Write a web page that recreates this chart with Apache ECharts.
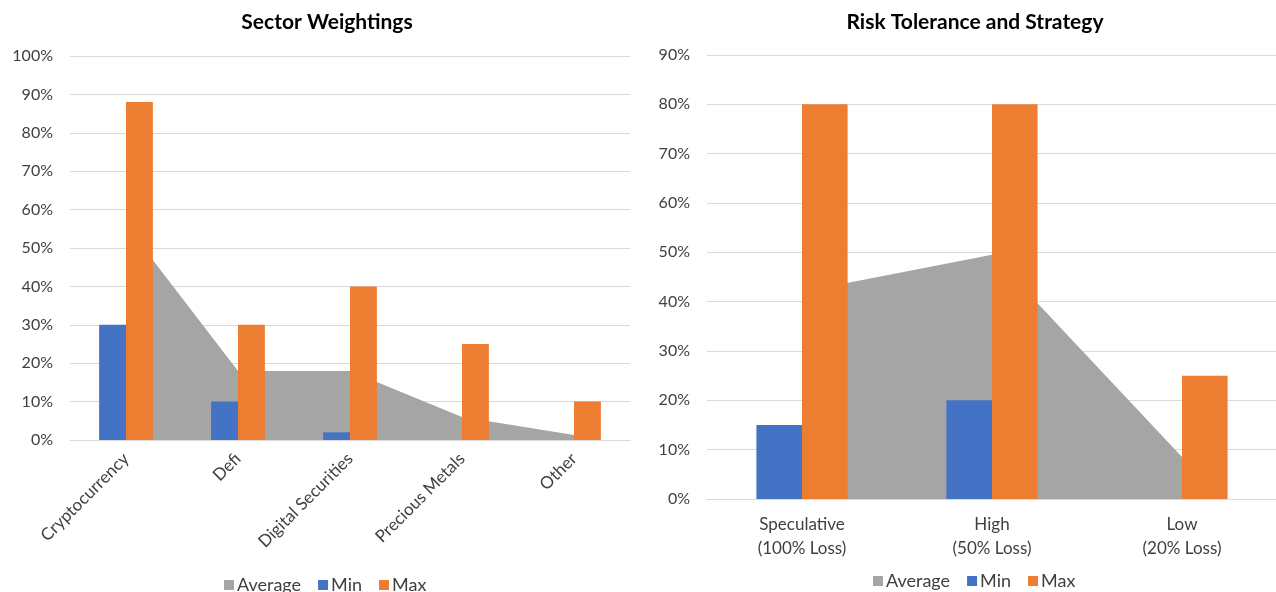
<!DOCTYPE html>
<html lang="en">
<head>
<meta charset="UTF-8">
<title>Sector Weightings / Risk Tolerance</title>
<style>
  html, body { margin: 0; padding: 0; background: #fff; }
  #main { width: 1276px; height: 592px; }
</style>
</head>
<body>
<div id="main"></div>
<script src="https://cdn.jsdelivr.net/npm/echarts@6/dist/echarts.min.js"></script>
<script>
// left chart: sector weightings (percent)
const sectorCats = ['Cryptocurrency', 'Defi', 'Digital Securities', 'Precious Metals', 'Other'];
const sectorAvg = [56, 18, 18, 6, 1.3];
const sectorMin = [30, 10, 2, 0, 0];
const sectorMax = [88, 30, 40, 25, 10];

// right chart: risk tolerance (percent)
const riskCats = ['Speculative\n(100% Loss)', 'High\n(50% Loss)', 'Low\n(20% Loss)'];
const riskAvg = [42, 49.5, 8.5];
const riskMin = [15, 20, 0];
const riskMax = [80, 80, 25];

const GRAY = '#A5A5A5', BLUE = '#4472C4', ORANGE = '#ED7D31';
const FONT = 'Lato, "Open Sans", sans-serif';
const TXT = '#404040';

var myChart = echarts.init(document.getElementById('main'));

function yAxis(idx, max) {
    return {
        type: 'value', gridIndex: idx, min: 0, max: max, interval: 10,
        axisLine: { show: false }, axisTick: { show: false },
        splitLine: { lineStyle: { color: '#d9d9d9', width: 1 } },
        axisLabel: { formatter: '{value}%', color: TXT, fontSize: 16, fontFamily: FONT, margin: 17 }
    };
}

function seriesFor(idx, avg, mn, mx) {
    return [
        {
            name: 'Average', type: 'line', xAxisIndex: idx, yAxisIndex: idx, data: avg,
            symbol: 'none', z: 1, lineStyle: { width: 0, opacity: 0 },
            areaStyle: { color: GRAY, opacity: 1 }, itemStyle: { color: GRAY }
        },
        {
            name: 'Min', type: 'bar', xAxisIndex: idx, yAxisIndex: idx, data: mn,
            barGap: '0%', barCategoryGap: '52%', z: 3, itemStyle: { color: BLUE }
        },
        {
            name: 'Max', type: 'bar', xAxisIndex: idx, yAxisIndex: idx, data: mx,
            barGap: '0%', barCategoryGap: '52%', z: 3, itemStyle: { color: ORANGE }
        }
    ];
}

function legendAt(left, top) {
    return {
        data: ['Average', 'Min', 'Max'], left: left, top: top, icon: 'rect',
        itemWidth: 10, itemHeight: 10, itemGap: 17,
        textStyle: { color: TXT, fontSize: 18, fontFamily: FONT, padding: [0, 0, 0, -2] }
    };
}

var option = {
    animation: false,
    textStyle: { fontFamily: FONT },
    title: [
        { text: 'Sector Weightings', left: 322, textAlign: 'center', top: 7,
          textStyle: { fontSize: 21, fontWeight: 'bold', color: '#000', fontFamily: FONT } },
        { text: 'Risk Tolerance and Strategy', left: 970, textAlign: 'center', top: 7,
          textStyle: { fontSize: 21, fontWeight: 'bold', color: '#000', fontFamily: FONT } }
    ],
    legend: [legendAt(219, 571), legendAt(868, 567)],
    grid: [
        { left: 70, top: 56, width: 560, height: 384, outerBoundsMode: 'none' },
        { left: 707, top: 55, width: 570, height: 444, outerBoundsMode: 'none' }
    ],
    xAxis: [
        {
            type: 'category', gridIndex: 0, data: sectorCats,
            axisLine: { lineStyle: { color: '#d9d9d9' } }, axisTick: { show: false },
            axisLabel: { rotate: 45, interval: 0, color: TXT, fontSize: 17, fontFamily: FONT, margin: 16 }
        },
        {
            type: 'category', gridIndex: 1, data: riskCats,
            axisLine: { lineStyle: { color: '#d9d9d9' } }, axisTick: { show: false },
            axisLabel: { interval: 0, color: TXT, fontSize: 17, fontFamily: FONT, margin: 14, lineHeight: 24 }
        }
    ],
    yAxis: [yAxis(0, 100), yAxis(1, 90)],
    series: seriesFor(0, sectorAvg, sectorMin, sectorMax).concat(seriesFor(1, riskAvg, riskMin, riskMax))
};

option && myChart.setOption(option);
</script>
</body>
</html>
